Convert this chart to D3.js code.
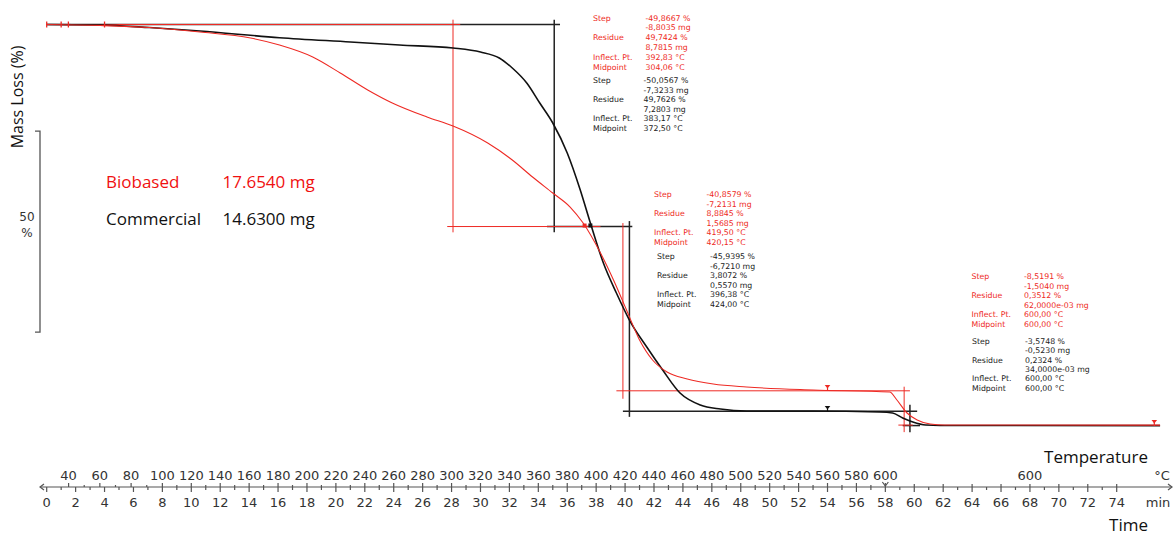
<!DOCTYPE html>
<html>
<head>
<meta charset="utf-8">
<script src="https://cdn.jsdelivr.net/npm/d3@7"></script>
<style>
  html, body { margin: 0; padding: 0; background: #fff; }
  svg { display: block; }
  .ann { font-family: "DejaVu Sans", Verdana, sans-serif; font-size: 7.8px; }
  .axl { font-family: "DejaVu Sans", Verdana, sans-serif; font-size: 13px; fill: #333; }
  .big { font-family: "Open Sans", "Noto Sans", sans-serif; font-size: 17px; }
</style>
</head>
<body>
<svg id="chart" width="1174" height="535"></svg>
<script>
// ---- TGA curves: time (min) and remaining mass (%) ----
const commercialTime = [0, 3.7, 7.1, 10.6, 16.1, 21.0, 24.4, 28.1, 30.0, 31.3, 32.2, 33.2, 34.1, 35.0, 36.0, 36.9, 37.6, 38.5, 39.4, 40.3, 41.5, 42.6, 43.8, 45.2, 46.6, 48.4, 53.0, 57.6, 58.5, 59.2, 59.9, 60.8, 61.8, 77.0];
const commercialMass = [100, 99.88, 99.25, 98.38, 96.72, 95.65, 94.9, 94.15, 93.16, 91.67, 89.18, 85.45, 80.47, 75.5, 68.03, 58.83, 50.62, 40.67, 33.21, 26.49, 19.78, 14.05, 8.33, 5.35, 4.35, 3.86, 3.86, 3.61, 3.36, 2.11, 1.12, 0.37, 0.25, 0.23];

const biobasedTime = [0, 3.7, 7.1, 10.6, 14.1, 16.1, 18.4, 20.3, 22.2, 23.9, 26.3, 28.1, 30.5, 32.2, 33.6, 35.0, 36.2, 37.1, 38.3, 39.2, 40.1, 41.0, 41.9, 42.9, 44.3, 46.1, 48.4, 53.0, 58.3, 58.8, 59.5, 60.2, 61.1, 62.1, 77.0];
const biobasedMass = [100, 99.75, 99.25, 98.13, 96.64, 94.9, 91.92, 87.94, 83.71, 80.47, 76.99, 74.75, 70.52, 66.29, 62.06, 58.08, 54.6, 50.62, 43.16, 36.44, 28.98, 21.52, 16.54, 13.56, 11.82, 10.57, 9.83, 9.08, 8.58, 6.59, 3.36, 1.62, 0.62, 0.37, 0.35];

// ---- sample legend ----
const sampleNames = ["Biobased", "Commercial"];
const sampleMasses = ["17.6540 mg", "14.6300 mg"];

// ---- step evaluation readouts ----
const evalLabels = ["Step", "", "Residue", "", "Inflect. Pt.", "Midpoint"];
const biobasedStep1 = ["-49,8667 %", "-8,8035 mg", "49,7424 %", "8,7815 mg", "392,83 °C", "304,06 °C"];
const commercialStep1 = ["-50,0567 %", "-7,3233 mg", "49,7626 %", "7,2803 mg", "383,17 °C", "372,50 °C"];
const biobasedStep2 = ["-40,8579 %", "-7,2131 mg", "8,8845 %", "1,5685 mg", "419,50 °C", "420,15 °C"];
const commercialStep2 = ["-45,9395 %", "-6,7210 mg", "3,8072 %", "0,5570 mg", "396,38 °C", "424,00 °C"];
const biobasedStep3 = ["-8,5191 %", "-1,5040 mg", "0,3512 %", "62,0000e-03 mg", "600,00 °C", "600,00 °C"];
const commercialStep3 = ["-3,5748 %", "-0,5230 mg", "0,2324 %", "34,0000e-03 mg", "600,00 °C", "600,00 °C"];

// ---- step construction lines [t1, m1, t2, m2] in min / % ----
const biobasedStepLines = [
  [0, 100, 28.6, 100],
  [28.1, 101.2, 28.1, 48.3],
  [27.7, 49.74, 38.3, 49.74],
  [39.85, 50.6, 39.85, 6.9],
  [39.4, 8.88, 59.7, 8.88],
  [59.3, 9.9, 59.3, -1.4],
  [58.9, 0.35, 59.9, 0.35]
];
const commercialStepLines = [
  [0, 100, 35.5, 100],
  [35.1, 101.2, 35.1, 48.3],
  [34.6, 49.76, 40.5, 49.76],
  [40.3, 51.1, 40.3, 2.4],
  [39.85, 3.81, 60.2, 3.81],
  [59.7, 5.4, 59.7, -1.4],
  [59.2, 0.23, 60.4, 0.23]
];

// ---- evaluation markers ----
const rangeTicksTime = [0, 1.0, 1.5, 4.0];
const biobasedPins = [[54.0, 9.08], [76.6, 0.35]];
const commercialPins = [[54.0, 3.86]];
const stepPoints = [[37.2, 49.74, "b"], [37.6, 49.76, "c"]];

// ---- axes ----
const timeTicks = d3.range(0, 76, 2);
const tempTicks = d3.range(40, 620, 20);
// temperature program: heating at 10 K/min up to 600 °C, then isothermal
const programTemp = [26, 100, 600];
const programTime = [0, 8, 58];
const isoLabelTime = 68;
const scaleBarTop = 73.5, scaleBarSpan = 50;

const RED = "#ee2a24", BLACK = "#111";

const svg = d3.select("#chart");
const x = d3.scaleLinear().domain([0, 74]).range([46.7, 1116.7]);
const y = d3.scaleLinear().domain([0, 100]).range([426.5, 24.5]);
const tempToTime = d3.scaleLinear().domain(programTemp).range(programTime);

// step construction lines
function drawSegments(segs, color, width) {
  svg.append("g").selectAll("line").data(segs).join("line")
    .attr("x1", d => x(d[0])).attr("y1", d => y(d[1]))
    .attr("x2", d => x(d[2])).attr("y2", d => y(d[3]))
    .attr("stroke", color).attr("stroke-width", width);
}
drawSegments(commercialStepLines, "#222", 1.5);
drawSegments(biobasedStepLines, RED, 1);

// curves
const line = d3.line().x(d => x(d[0])).y(d => y(d[1])).curve(d3.curveMonotoneX);
svg.append("path").datum(d3.zip(commercialTime, commercialMass))
  .attr("d", line).attr("fill", "none").attr("stroke", BLACK).attr("stroke-width", 1.6);
svg.append("path").datum(d3.zip(biobasedTime, biobasedMass))
  .attr("d", line).attr("fill", "none").attr("stroke", RED).attr("stroke-width", 1.1);

// range limit ticks at the start
svg.append("g").selectAll("line").data(rangeTicksTime).join("line")
  .attr("x1", d => x(d)).attr("x2", d => x(d))
  .attr("y1", y(100) - 3).attr("y2", y(100) + 3)
  .attr("stroke", RED).attr("stroke-width", 1.3);

// pins
function drawPins(pins, color) {
  const g = svg.append("g");
  pins.forEach(p => {
    const px = x(p[0]), py = y(p[1]);
    g.append("path").attr("d", `M${px - 2.8},${py - 5} L${px + 2.8},${py - 5} L${px},${py - 1.5} Z`).attr("fill", color);
    g.append("line").attr("x1", px).attr("x2", px).attr("y1", py - 3).attr("y2", py + 1)
      .attr("stroke", color).attr("stroke-width", 1.2);
  });
}
drawPins(biobasedPins, RED);
drawPins(commercialPins, BLACK);

svg.append("g").selectAll("rect").data(stepPoints).join("rect")
  .attr("x", d => x(d[0]) - 2).attr("y", d => y(d[1]) - 3)
  .attr("width", 4).attr("height", 4)
  .attr("fill", d => d[2] === "b" ? RED : BLACK);

// evaluation text blocks
function drawBlock(values, lx, vx, y0, color, dy) {
  const g = svg.append("g").attr("class", "ann").attr("fill", color);
  values.forEach((v, i) => {
    const yy = y0 + i * dy;
    if (evalLabels[i]) g.append("text").attr("x", lx).attr("y", yy).text(evalLabels[i]);
    g.append("text").attr("x", vx).attr("y", yy).text(v);
  });
}
drawBlock(biobasedStep1, 593, 645.5, 20.5, RED, 9.8);
drawBlock(commercialStep1, 593, 643.5, 83, "#222", 9.5);
drawBlock(biobasedStep2, 654, 706.5, 197, RED, 9.5);
drawBlock(commercialStep2, 657, 710, 259, "#222", 9.5);
drawBlock(biobasedStep3, 971.5, 1024, 279, RED, 9.5);
drawBlock(commercialStep3, 972, 1025, 344, "#222", 9.3);

// sample legend
const leg = svg.append("g").attr("class", "big");
sampleNames.forEach((n, i) => {
  const col = i === 0 ? "#f01010" : "#111";
  leg.append("text").attr("x", 106).attr("y", 188 + i * 36.5).attr("fill", col).text(n);
  leg.append("text").attr("x", 222.5).attr("y", 188 + i * 36.5).attr("fill", col).text(sampleMasses[i]);
});

// mass scale bar
const sb = svg.append("g").attr("stroke", "#555").attr("stroke-width", 1.3).attr("fill", "none");
const sbY1 = y(scaleBarTop), sbY2 = y(scaleBarTop - scaleBarSpan);
sb.append("path").attr("d", `M35,${sbY1} H40 V${sbY2} H35`);
svg.append("text").attr("class", "axl").attr("x", 27).attr("y", 221).attr("text-anchor", "middle")
  .style("font-size", "12px").text(scaleBarSpan);
svg.append("text").attr("class", "axl").attr("x", 27).attr("y", 237).attr("text-anchor", "middle")
  .style("font-size", "12px").text("%");
svg.append("text").attr("class", "big").attr("transform", "translate(23,97) rotate(-90)")
  .attr("text-anchor", "middle").style("font-size", "16px").attr("fill", "#111").text("Mass Loss (%)");

// combined time / temperature axis
const axisY = 487;
const ax = svg.append("g").attr("stroke", "#555").attr("stroke-width", 1.2).attr("fill", "none");
ax.append("line").attr("x1", 40).attr("x2", 1172).attr("y1", axisY).attr("y2", axisY);
ax.append("path").attr("d", `M44,${axisY - 3} L40,${axisY} L44,${axisY + 3}`);
ax.append("path").attr("d", `M1168,${axisY - 3} L1172,${axisY} L1168,${axisY + 3}`);
ax.selectAll(".tm").data(d3.range(0, 75, 1)).join("line")
  .attr("x1", d => x(d)).attr("x2", d => x(d))
  .attr("y1", axisY).attr("y2", d => axisY + (d % 2 === 0 ? 5 : 3));
ax.selectAll(".tt").data(tempTicks.concat(d3.range(50, 600, 20))).join("line")
  .attr("x1", d => x(tempToTime(d))).attr("x2", d => x(tempToTime(d)))
  .attr("y1", axisY).attr("y2", d => axisY - (d % 20 === 0 ? 4 : 2));
ax.append("path").attr("d", `M${x(58) - 3},${axisY - 5} L${x(58)},${axisY - 1} L${x(58) + 3},${axisY - 5}`);
ax.selectAll(".ti").data(d3.range(60, 76, 2)).join("line")
  .attr("x1", d => x(d)).attr("x2", d => x(d))
  .attr("y1", axisY).attr("y2", axisY - 3);

const lab = svg.append("g").attr("class", "axl").attr("text-anchor", "middle");
lab.selectAll(".tl").data(timeTicks).join("text")
  .attr("x", d => x(d)).attr("y", 507).text(d => d);
lab.selectAll(".pl").data(tempTicks).join("text")
  .attr("x", d => x(tempToTime(d))).attr("y", 479.5).text(d => d);
lab.append("text").attr("x", x(isoLabelTime)).attr("y", 479.5).text(600);
lab.append("text").attr("x", 1162).attr("y", 479.5).text("°C");
lab.append("text").attr("x", 1158).attr("y", 507).text("min");

svg.append("text").attr("class", "big").attr("x", 1148).attr("y", 463).attr("text-anchor", "end")
  .attr("fill", "#111").text("Temperature");
svg.append("text").attr("class", "big").attr("x", 1148).attr("y", 531).attr("text-anchor", "end")
  .attr("fill", "#111").text("Time");
</script>
</body>
</html>
